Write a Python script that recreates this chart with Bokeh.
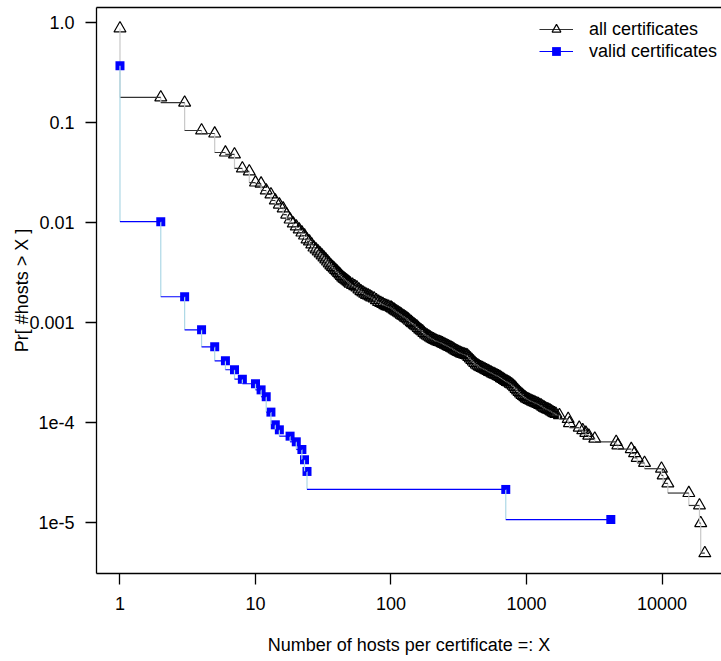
from bokeh.plotting import figure
from bokeh.models import (FixedTicker, LogAxis, Legend, LegendItem,
                          ColumnDataSource)
from bokeh.embed import file_html
from bokeh.resources import INLINE

# ---------------- data ----------------
x_ticks = [1, 10, 100, 1000, 10000]
x_tick_labels = ["1", "10", "100", "1000", "10000"]
y_ticks = [1e-5, 1e-4, 1e-3, 1e-2, 1e-1, 1.0]
y_tick_labels = ["1e-5", "1e-4", "0.001", "0.01", "0.1", "1.0"]

series_names = ["all certificates", "valid certificates"]
x_title = "Number of hosts per certificate =: X"
y_title = "Pr[ #hosts > X ]"

all_x = [1, 2, 3, 4, 5, 6, 7, 8, 9, 10, 11, 12, 13, 14, 15, 16, 17, 18, 19, 20,
         21, 22, 23, 24, 25, 26, 27, 28, 29, 30,
         31, 32, 33, 34, 35, 36, 37, 38, 39, 40, 41, 42, 43, 44, 45, 46, 47, 48, 49, 50,
         52, 54, 56, 58, 60, 62, 64, 66, 68, 70, 72, 75, 78, 81, 84, 87, 90, 93, 96,
         100, 102, 105, 107, 110, 113, 116, 119, 122, 125, 128, 131, 134, 137, 141, 144,
         148, 151, 155, 159, 163, 167, 171, 175, 180, 185, 190, 195, 200, 205, 210, 215,
         221, 227, 233, 239, 245, 251, 258, 264, 271, 278, 285, 292, 300, 307, 315, 323,
         331, 339, 348, 357, 366, 375, 385, 395, 405, 415, 426, 437, 448, 459, 471, 483,
         495, 507, 520, 533, 547, 561, 575, 590, 605, 620, 636, 652, 669, 686, 703, 721,
         739, 758, 777, 797, 817, 838, 859, 881, 903, 926, 949, 973, 998, 1023, 1049, 1076,
         1103, 1131, 1160, 1190, 1220, 1251, 1283, 1316, 1349, 1383, 1418, 1454, 1491, 1529,
         1568, 1608, 1649,
         1750, 2030, 2075, 2450, 2600, 2740, 2880, 3190, 4590, 4720,
         5930, 6270, 6560, 7430, 9910, 10200, 11040, 15770, 18900, 19300, 20700]
all_y = [0.871, 0.178, 0.158, 0.0832, 0.0776, 0.0501, 0.0479, 0.0347, 0.0324, 0.0251,
         0.0245, 0.0209, 0.0191, 0.0166, 0.0151, 0.0138, 0.0120, 0.0107, 0.00977, 0.00912,
         0.00851, 0.00794, 0.00741, 0.00676, 0.00646, 0.00603, 0.00562, 0.00537, 0.00513, 0.00490,
         0.00468, 0.00447, 0.00427, 0.00407, 0.00389, 0.00372, 0.00360, 0.00347, 0.00335, 0.00324,
         0.00313, 0.00302, 0.00292, 0.00282, 0.00275, 0.00269, 0.00263, 0.00257, 0.00251, 0.00245,
         0.00238, 0.00231, 0.00224, 0.00214, 0.00206, 0.00200, 0.00194, 0.00189, 0.00186, 0.00182,
         0.00178, 0.00174, 0.00167, 0.00161, 0.00157, 0.00153, 0.00149, 0.00146, 0.00144,
         0.00141, 0.00138, 0.00135, 0.00132, 0.00129, 0.00126, 0.00123, 0.00120, 0.00117, 0.00115,
         0.00112, 0.00110, 0.00107, 0.00104, 0.00101, 0.000985,
         0.000955, 0.000935, 0.000912, 0.000880, 0.000851, 0.000832, 0.000813, 0.000785,
         0.000759, 0.000741, 0.000724, 0.000708, 0.000692, 0.000680, 0.000668, 0.000657,
         0.000646, 0.000638, 0.000631, 0.000620, 0.000610, 0.000600, 0.000589, 0.000579,
         0.000569, 0.000560, 0.000550, 0.000537, 0.000525, 0.000516, 0.000507, 0.000498,
         0.000490, 0.000485, 0.000479, 0.000473, 0.000468, 0.000452, 0.000437, 0.000422,
         0.000407, 0.000393, 0.000380, 0.000371, 0.000363, 0.000357, 0.000351, 0.000345,
         0.000339, 0.000333, 0.000327, 0.000321, 0.000316, 0.000310, 0.000305, 0.000300,
         0.000295, 0.000290, 0.000285, 0.000278, 0.000272, 0.000266, 0.000260, 0.000255,
         0.000251, 0.000245, 0.000240, 0.000233, 0.000226, 0.000217, 0.000209, 0.000202,
         0.000195, 0.000189, 0.000184, 0.000179, 0.000174, 0.000171, 0.000168, 0.000165,
         0.000162, 0.000160, 0.000158, 0.000155, 0.000153, 0.000150, 0.000148, 0.000144,
         0.000141, 0.000138, 0.000136, 0.000134, 0.000132, 0.000129,
         0.000126, 0.000124, 0.000122,
         1.182e-4, 1.084e-4, 9.85e-5, 8.87e-5, 8.37e-5, 7.88e-5, 7.39e-5, 6.90e-5, 6.40e-5, 5.91e-5,
         5.42e-5, 4.93e-5, 4.43e-5, 3.94e-5, 3.45e-5, 2.96e-5, 2.46e-5, 1.97e-5, 1.48e-5, 9.85e-6, 4.93e-6]

valid_x = [1, 2, 3, 4, 5, 6, 7, 8, 10, 11, 12, 13, 14, 15, 18, 20, 22, 23, 24, 703, 4190]
valid_y = [0.369, 0.0102, 0.00181, 0.000845, 0.000571, 0.000414, 0.000337, 0.000271,
           0.000244, 0.000212, 0.000181, 0.000127, 0.0000948, 0.0000845, 0.0000730,
           0.0000641, 0.0000537, 0.0000424, 0.0000324, 0.0000214, 0.0000107]

assert len(all_x) == len(all_y)
assert len(valid_x) == len(valid_y)

FONT = "Liberation Sans"
FS = "18px"


def step_sources(xs, ys):
    """R type='S' stairs: vertical at x_i first, then horizontal to x_{i+1}."""
    vert = ColumnDataSource(dict(x0=xs[:-1], y0=ys[:-1], x1=xs[:-1], y1=ys[1:]))
    hor = ColumnDataSource(dict(x0=xs[:-1], y0=ys[1:], x1=xs[1:], y1=ys[1:]))
    return vert, hor


p = figure(width=721, height=661, x_axis_type="log", y_axis_type="log",
           x_range=(0.671, 27480), y_range=(3.09e-6, 1.4125),
           output_backend="svg", toolbar_location=None,
           min_border_left=96, min_border_right=0, min_border_top=7,
           min_border_bottom=88)
p.background_fill_color = "white"
p.border_fill_color = "white"
p.outline_line_color = None
p.grid.visible = False

# all certificates
a_pts = p.scatter(all_x, all_y, marker="triangle", size=12,
                  line_color="black", fill_color=None, line_width=1.2)
a_v, a_h = step_sources(all_x, all_y)
p.segment(x0="x0", y0="y0", x1="x1", y1="y1", source=a_v,
          line_color="#c8c8c8", line_width=1.2)
a_hr = p.segment(x0="x0", y0="y0", x1="x1", y1="y1", source=a_h,
                 line_color="#333333", line_width=1.2)

# valid certificates
v_pts = p.scatter(valid_x, valid_y, marker="square", size=9,
                  line_color="blue", fill_color="blue", line_width=0)
v_v, v_h = step_sources(valid_x, valid_y)
p.segment(x0="x0", y0="y0", x1="x1", y1="y1", source=v_v,
          line_color="#add8e6", line_width=1.2)
v_hr = p.segment(x0="x0", y0="y0", x1="x1", y1="y1", source=v_h,
                 line_color="blue", line_width=1.2)

# axes
p.xaxis.ticker = FixedTicker(ticks=x_ticks)
p.xaxis.major_label_overrides = {t: l for t, l in zip(x_ticks, x_tick_labels)}
p.yaxis.ticker = FixedTicker(ticks=y_ticks)
p.yaxis.major_label_overrides = {t: l for t, l in zip(y_ticks, y_tick_labels)}
for ax in (p.xaxis[0], p.yaxis[0]):
    ax.major_tick_out = 11
    ax.major_tick_in = 0
    ax.minor_tick_out = 0
    ax.minor_tick_in = 0
    ax.minor_tick_line_color = None
    ax.axis_line_color = "black"
    ax.axis_line_width = 1.3
    ax.major_tick_line_color = "black"
    ax.major_tick_line_width = 1.3
    ax.major_label_text_font = FONT
    ax.major_label_text_font_size = FS
    ax.major_label_text_color = "black"
    ax.axis_label_text_font = FONT
    ax.axis_label_text_font_size = FS
    ax.axis_label_text_font_style = "normal"
    ax.axis_label_text_color = "black"
p.xaxis.major_label_standoff = 12
p.yaxis.major_label_standoff = 11
p.xaxis.axis_label = x_title
p.xaxis.axis_label_standoff = 22
p.yaxis.axis_label = y_title
p.yaxis.axis_label_standoff = -6

top = LogAxis(ticker=FixedTicker(ticks=[]), major_tick_out=0, major_tick_in=0,
              minor_tick_out=0, minor_tick_in=0, major_label_text_font_size="0px",
              axis_line_color="black", axis_line_width=1.3)
p.add_layout(top, "above")

legend = Legend(items=[LegendItem(label=series_names[0], renderers=[a_hr, a_pts]),
                       LegendItem(label=series_names[1], renderers=[v_hr, v_pts])],
                location=(443, 511), padding=0, margin=0, spacing=0,
                glyph_width=34, glyph_height=22, label_height=22,
                label_standoff=16, border_line_color=None,
                background_fill_alpha=0,
                label_text_font=FONT, label_text_font_size=FS,
                label_text_color="black")
p.add_layout(legend)

open("out.html", "w").write(file_html(p, INLINE))
